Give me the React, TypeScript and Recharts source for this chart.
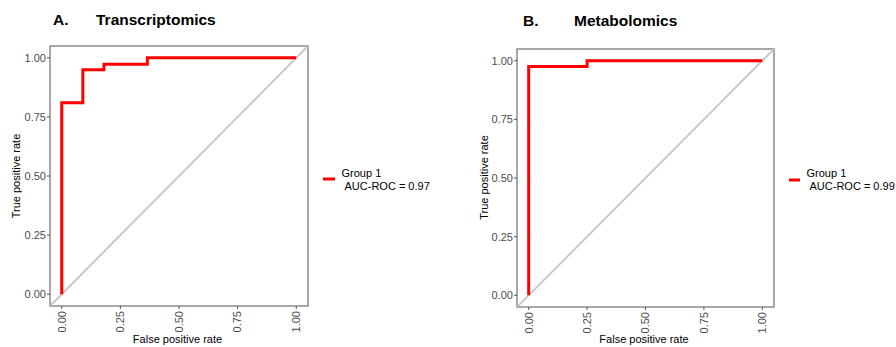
import React from "react";
import { LineChart, Line, XAxis, YAxis, ReferenceArea } from "recharts";

// Panel A: Transcriptomics ROC
const fprA = [0, 0, 0.09, 0.09, 0.18, 0.18, 0.365, 0.365, 1];
const tprA = [0, 0.81, 0.81, 0.95, 0.95, 0.973, 0.973, 1, 1];
// Panel B: Metabolomics ROC
const fprB = [0, 0, 0.25, 0.25, 1];
const tprB = [0, 0.975, 0.975, 1, 1];
// Chance diagonal
const diagX = [-0.05, 1.05];
const diagY = [-0.05, 1.05];
const ticks = [0, 0.25, 0.5, 0.75, 1];
const tickLabels = ["0.00", "0.25", "0.50", "0.75", "1.00"];

const FONT = "'Liberation Sans', Arial, sans-serif";

const toRows = (xs: number[], ys: number[]) => xs.map((x, i) => ({ fpr: x, tpr: ys[i] }));
const fmt = (v: number) => tickLabels[ticks.indexOf(v)] ?? v.toFixed(2);

const XTick = (props: any) => {
  const { x, y, payload } = props;
  return (
    <g transform={`translate(${x},${y})`}>
      <text transform="rotate(-90)" textAnchor="end" dy="0.35em" fontSize={11} fill="#4d4d4d" fontFamily={FONT}>
        {fmt(payload.value)}
      </text>
    </g>
  );
};

type PanelProps = {
  fpr: number[];
  tpr: number[];
  yAxisWidth: number;
  marginTop: number;
  marginRight: number;
  xAxisHeight: number;
};

const Panel = ({ fpr, tpr, yAxisWidth, marginTop, marginRight, xAxisHeight }: PanelProps) => (
  <LineChart width={450} height={347} margin={{ top: marginTop, right: marginRight, bottom: 0, left: 0 }}>
    <XAxis
      dataKey="fpr"
      type="number"
      domain={[-0.05, 1.05]}
      ticks={ticks}
      allowDataOverflow
      axisLine={false}
      tickSize={3}
      tickMargin={2}
      tickLine={{ stroke: "#555", strokeWidth: 1 }}
      height={xAxisHeight}
      tick={<XTick />}
      interval={0}
    />
    <YAxis
      dataKey="tpr"
      type="number"
      domain={[-0.05, 1.05]}
      ticks={ticks}
      allowDataOverflow
      axisLine={false}
      width={yAxisWidth}
      tickSize={3}
      tickMargin={1}
      tickLine={{ stroke: "#555", strokeWidth: 1 }}
      tickFormatter={fmt}
      tick={{ fontSize: 11, fill: "#4d4d4d", fontFamily: FONT }}
      interval={0}
    />
    <ReferenceArea x1={-0.05} x2={1.05} y1={-0.05} y2={1.05} fill="none" stroke="#8c8c8c" strokeWidth={1.5} />
    <Line
      data={toRows(diagX, diagY)}
      dataKey="tpr"
      type="linear"
      stroke="#c4c4c4"
      strokeWidth={1.8}
      dot={false}
      isAnimationActive={false}
    />
    <Line
      data={toRows(fpr, tpr)}
      dataKey="tpr"
      type="linear"
      stroke="#ff0000"
      strokeWidth={3}
      dot={false}
      isAnimationActive={false}
    />
  </LineChart>
);

export default function App() {
  return (
    <div style={{ position: "absolute", left: 0, top: 0, width: 896, height: 347, background: "#fff", overflow: "hidden" }}>
      <div style={{ position: "absolute", left: 0, top: 0 }}>
        <Panel fpr={fprA} tpr={tprA} yAxisWidth={50} marginTop={46} marginRight={142} xAxisHeight={41} />
      </div>
      <div style={{ position: "absolute", left: 450, top: 0 }}>
        <Panel fpr={fprB} tpr={tprB} yAxisWidth={67} marginTop={49} marginRight={126} xAxisHeight={40} />
      </div>
      <svg width={896} height={347} style={{ position: "absolute", left: 0, top: 0, pointerEvents: "none" }} fontFamily={FONT}>
        {/* Titles */}
        <text x={53} y={25} fontSize={15.5} fontWeight="bold" fill="#000">A.</text>
        <text x={96} y={25} fontSize={15.5} fontWeight="bold" fill="#000">Transcriptomics</text>
        <text x={523} y={26} fontSize={15.5} fontWeight="bold" fill="#000">B.</text>
        <text x={574} y={26} fontSize={15.5} fontWeight="bold" fill="#000">Metabolomics</text>
        {/* Axis titles A */}
        <text x={177.5} y={343} fontSize={11} textAnchor="middle" fill="#000">False positive rate</text>
        <text transform="translate(20,176) rotate(-90)" fontSize={11} textAnchor="middle" fill="#000">True positive rate</text>
        {/* Axis titles B */}
        <text x={644} y={343} fontSize={11} textAnchor="middle" fill="#000">False positive rate</text>
        <text transform="translate(488,177.5) rotate(-90)" fontSize={11} textAnchor="middle" fill="#000">True positive rate</text>
        {/* Legend A */}
        <line x1={323} y1={179} x2={335} y2={179} stroke="#ff0000" strokeWidth={3} />
        <text x={341.5} y={176.5} fontSize={11} fill="#000">Group 1</text>
        <text x={344.5} y={189.5} fontSize={11} fill="#000">AUC-ROC = 0.97</text>
        {/* Legend B */}
        <line x1={789} y1={180} x2={800} y2={180} stroke="#ff0000" strokeWidth={3} />
        <text x={806.5} y={177} fontSize={11} fill="#000">Group 1</text>
        <text x={809.5} y={190} fontSize={11} fill="#000">AUC-ROC = 0.99</text>
      </svg>
    </div>
  );
}
